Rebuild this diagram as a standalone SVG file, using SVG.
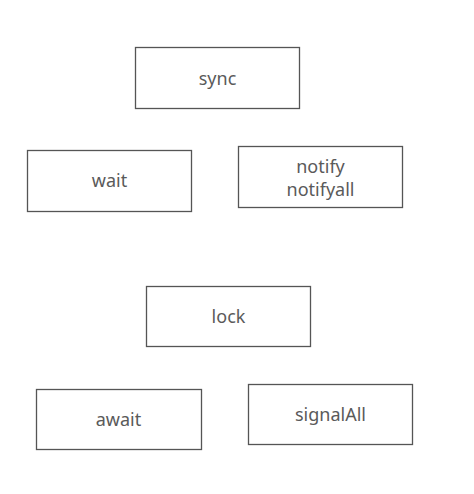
<svg xmlns="http://www.w3.org/2000/svg" width="474" height="494" viewBox="0 0 474 494">
<style>
.box{fill:#fff;stroke:#555;stroke-width:1.3}
.lbl{font-family:"Noto Sans","Liberation Sans",sans-serif;font-size:18px;fill:#5a5a5a;text-anchor:middle}
</style>
<rect width="474" height="494" fill="#fff"/>
<g id="connectors"></g>
<g id="node-sync"><rect class="box" x="135.5" y="47.5" width="164" height="61"/><text class="lbl" x="217.5" y="85">sync</text></g>
<g id="node-wait"><rect class="box" x="27.5" y="150.5" width="164" height="61"/><text class="lbl" x="109.5" y="187">wait</text></g>
<g id="node-notify"><rect class="box" x="238.5" y="146.5" width="164" height="61"/><text class="lbl" x="320.5" y="173">notify</text><text class="lbl" x="320.5" y="196">notifyall</text></g>
<g id="node-lock"><rect class="box" x="146.5" y="286.5" width="164" height="60"/><text class="lbl" x="228.5" y="323">lock</text></g>
<g id="node-await"><rect class="box" x="36.5" y="389.5" width="165" height="60"/><text class="lbl" x="118.5" y="426">await</text></g>
<g id="node-signalAll"><rect class="box" x="248.5" y="384.5" width="164" height="60"/><text class="lbl" x="330.5" y="421">signalAll</text></g>
</svg>
